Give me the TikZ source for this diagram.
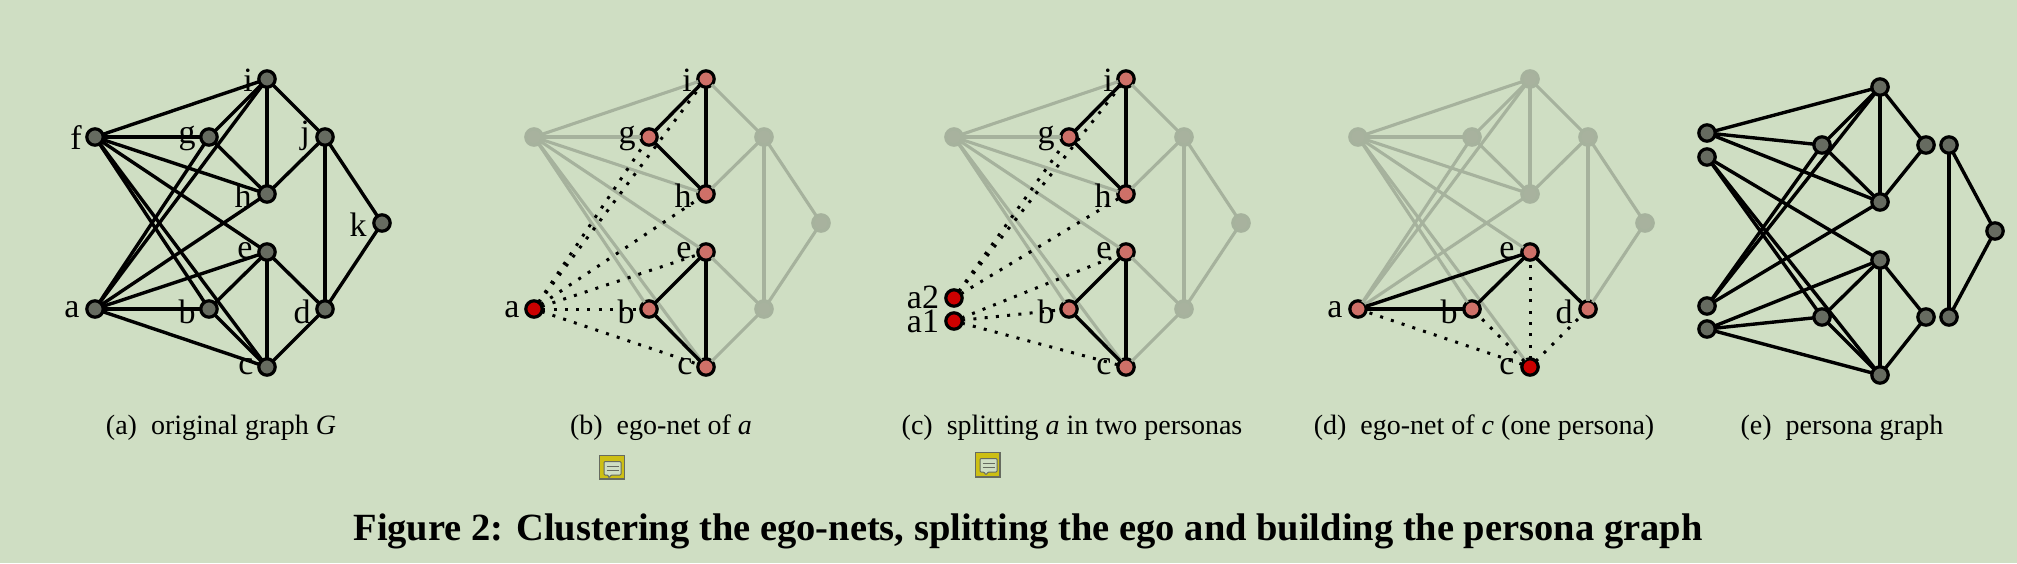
\documentclass[tikz,border=0pt]{standalone}
\usepackage{xcolor}
\usepackage{fontspec}
\setmainfont{Liberation Serif}
\usetikzlibrary{positioning}
\definecolor{bgcol}{HTML}{CFDEC3}
\definecolor{graycol}{HTML}{666B60}
\definecolor{pinkcol}{HTML}{CE7068}
\definecolor{redcol}{HTML}{CC0000}
\definecolor{fadefill}{HTML}{A8B29E}
\definecolor{fadeline}{HTML}{A6B29D}
\definecolor{notecol}{HTML}{CDBF14}
\tikzset{
  graynode/.style={circle,draw=black,line width=3.2pt,fill=graycol,inner sep=0pt,outer sep=0pt,minimum size=16.4pt},
  pinknode/.style={graynode,fill=pinkcol},
  rednode/.style={graynode,fill=redcol},
  fadenode/.style={graynode,draw=fadeline,fill=fadefill},
  plainedge/.style={draw=black,line width=3.4pt},
  fadeedge/.style={draw=fadeline,line width=3.1pt},
  dotedge/.style={draw=black,line width=3pt,dash pattern=on 3pt off 8.3pt},
  lab/.style={font=\fontsize{34}{34}\selectfont,inner sep=0pt,anchor=base},
  subcap/.style={font=\fontsize{28}{28}\selectfont,anchor=base,inner sep=0pt},
  notebox/.style={draw=graycol,line width=1.3pt,fill=notecol},
  bubble/.style={draw=graycol,line width=1pt,fill=bgcol,rounded corners=1pt}
}
\begin{document}
\begin{tikzpicture}[x=1pt,y=-1pt]
  \useasboundingbox (0,0) rectangle (2017,563);
  \fill[bgcol] (0,0) rectangle (2017,563);

  % (a) original graph
  \begin{scope}[every node/.style={graynode}]
    \node (aa) at (95,309) {};
    \node (ab) at (209,309) {};
    \node (ac) at (267,367) {};
    \node (ad) at (325,309) {};
    \node (ae) at (267,252) {};
    \node (af) at (95,137) {};
    \node (ag) at (209,137) {};
    \node (ah) at (267,194) {};
    \node (ai) at (267,79) {};
    \node (aj) at (325,137) {};
    \node (ak) at (382,223) {};
  \end{scope}
  \begin{scope}[every edge/.style={plainedge}]
    \path (af) edge (ai) edge (ag) edge (ah) edge (ae) edge (ab) edge (ac);
    \path (aa) edge (ai) edge (ag) edge (ah) edge (ae) edge (ab) edge (ac);
    \path (ag) edge (ai) edge (ah);
    \path (ai) edge (ah) edge (aj);
    \path (ah) edge (aj);
    \path (ae) edge (ab) edge (ac) edge (ad);
    \path (ac) edge (ab) edge (ad);
    \path (aj) edge (ad) edge (ak);
    \path (ad) edge (ak);
  \end{scope}
  \begin{scope}[every node/.style={lab}]
    \node (la1) at (72,317) {a};
    \node (lb1) at (187,323) {b};
    \node (lc1) at (246,374) {c};
    \node (ld1) at (302,323) {d};
    \node (le1) at (245,258) {e};
    \node (lf1) at (76,149) {f};
    \node (lg1) at (187,143) {g};
    \node (lh1) at (243,207) {h};
    \node (li1) at (248,91) {i};
    \node (lj1) at (305,143) {j};
    \node (lk1) at (358,236) {k};
  \end{scope}
  \node[subcap] (cap1) at (221,434) {(a)\hspace{0.5em}original graph \textit{G}};

  % (b) ego-net of a
  \begin{scope}[every node/.style={fadenode}]
    \node (bd) at (764,309) {};
    \node (bf) at (534,137) {};
    \node (bj) at (764,137) {};
    \node (bk) at (821,223) {};
  \end{scope}
  \begin{scope}[every node/.style={pinknode}]
    \node (bb) at (649,309) {};
    \node (bc) at (706,367) {};
    \node (be) at (706,252) {};
    \node (bg) at (649,137) {};
    \node (bh) at (706,194) {};
    \node (bi) at (706,79) {};
  \end{scope}
  \node[rednode] (ba) at (534,309) {};
  \begin{scope}[every edge/.style={fadeedge}]
    \path (bf) edge (bi) edge (bg) edge (bh) edge (be) edge (bb) edge (bc);
    \path (bi) edge (bj);
    \path (bh) edge (bj);
    \path (be) edge (bd);
    \path (bc) edge (bd);
    \path (bj) edge (bd) edge (bk);
    \path (bd) edge (bk);
  \end{scope}
  \begin{scope}[every edge/.style={dotedge}]
    \path (ba) edge (bi) edge (bg) edge (bh) edge (be) edge (bb) edge (bc);
  \end{scope}
  \begin{scope}[every edge/.style={plainedge}]
    \path (bg) edge (bi) edge (bh);
    \path (bi) edge (bh);
    \path (be) edge (bb) edge (bc);
    \path (bc) edge (bb);
  \end{scope}
  \begin{scope}[every node/.style={lab}]
    \node (la2) at (512,317) {a};
    \node (lb2) at (626,323) {b};
    \node (lc2) at (685,374) {c};
    \node (le2) at (684,258) {e};
    \node (lg2) at (627,143) {g};
    \node (lh2) at (683,207) {h};
    \node (li2) at (687,91) {i};
  \end{scope}
  \node[subcap] (cap2) at (661,434) {(b)\hspace{0.5em}ego-net of \textit{a}};

  % (c) splitting a in two personas
  \begin{scope}[every node/.style={fadenode}]
    \node (cd) at (1184,309) {};
    \node (cf) at (954,137) {};
    \node (cj) at (1184,137) {};
    \node (ck) at (1241,223) {};
  \end{scope}
  \begin{scope}[every node/.style={pinknode}]
    \node (cb) at (1069,309) {};
    \node (cc) at (1126,367) {};
    \node (ce) at (1126,252) {};
    \node (cg) at (1069,137) {};
    \node (ch) at (1126,194) {};
    \node (ci) at (1126,79) {};
  \end{scope}
  \node[rednode] (cal) at (954,321) {};
  \node[rednode] (cau) at (954,298) {};
  \begin{scope}[every edge/.style={fadeedge}]
    \path (cf) edge (ci) edge (cg) edge (ch) edge (ce) edge (cb) edge (cc);
    \path (ci) edge (cj);
    \path (ch) edge (cj);
    \path (ce) edge (cd);
    \path (cc) edge (cd);
    \path (cj) edge (cd) edge (ck);
    \path (cd) edge (ck);
  \end{scope}
  \begin{scope}[every edge/.style={dotedge}]
    \path (cau) edge (ci) edge (cg) edge (ch);
    \path (cal) edge (ce) edge (cb) edge (cc);
  \end{scope}
  \begin{scope}[every edge/.style={plainedge}]
    \path (cg) edge (ci) edge (ch);
    \path (ci) edge (ch);
    \path (ce) edge (cb) edge (cc);
    \path (cc) edge (cb);
  \end{scope}
  \begin{scope}[every node/.style={lab}]
    \node (la3u) at (923,308) {a2};
    \node (la3l) at (923,332) {a1};
    \node (lb3) at (1046,323) {b};
    \node (lc3) at (1104,374) {c};
    \node (le3) at (1104,258) {e};
    \node (lg3) at (1046,143) {g};
    \node (lh3) at (1103,207) {h};
    \node (li3) at (1108,91) {i};
  \end{scope}
  \node[subcap] (cap3) at (1072,434) {(c)\hspace{0.5em}splitting \textit{a} in two personas};

  % (d) ego-net of c
  \begin{scope}[every node/.style={fadenode}]
    \node (df) at (1358,137) {};
    \node (dg) at (1472,137) {};
    \node (dh) at (1530,194) {};
    \node (di) at (1530,79) {};
    \node (dj) at (1588,137) {};
    \node (dk) at (1645,223) {};
  \end{scope}
  \begin{scope}[every node/.style={pinknode}]
    \node (da) at (1358,309) {};
    \node (db) at (1472,309) {};
    \node (dd) at (1588,309) {};
    \node (de) at (1530,252) {};
  \end{scope}
  \node[rednode] (dc) at (1530,367) {};
  \begin{scope}[every edge/.style={fadeedge}]
    \path (df) edge (di) edge (dg) edge (dh) edge (de) edge (db) edge (dc);
    \path (da) edge (di) edge (dg) edge (dh);
    \path (dg) edge (di) edge (dh);
    \path (di) edge (dh) edge (dj);
    \path (dh) edge (dj);
    \path (dj) edge (dd) edge (dk);
    \path (dd) edge (dk);
  \end{scope}
  \begin{scope}[every edge/.style={dotedge}]
    \path (dc) edge (da) edge (db) edge (de) edge (dd);
  \end{scope}
  \begin{scope}[every edge/.style={plainedge}]
    \path (da) edge (de) edge (db);
    \path (de) edge (db) edge (dd);
  \end{scope}
  \begin{scope}[every node/.style={lab}]
    \node (la4) at (1335,317) {a};
    \node (lb4) at (1449,323) {b};
    \node (lc4) at (1507,374) {c};
    \node (ld4) at (1564,323) {d};
    \node (le4) at (1507,258) {e};
  \end{scope}
  \node[subcap] (cap4) at (1484,434) {(d)\hspace{0.5em}ego-net of \textit{c} (one persona)};

  % (e) persona graph
  \begin{scope}[every node/.style={graynode}]
    \node (efu) at (1707,133) {};
    \node (efl) at (1707,157) {};
    \node (eau) at (1707,306) {};
    \node (eal) at (1707,329) {};
    \node (eg) at (1822,145) {};
    \node (eb) at (1822,317) {};
    \node (ei) at (1880,87) {};
    \node (eh) at (1880,202) {};
    \node (ee) at (1880,260) {};
    \node (ec) at (1880,375) {};
    \node (eju) at (1926,145) {};
    \node (edu) at (1926,317) {};
    \node (ejv) at (1949,145) {};
    \node (edv) at (1949,317) {};
    \node (ek) at (1995,231) {};
  \end{scope}
  \begin{scope}[every edge/.style={plainedge}]
    \path (efu) edge (ei) edge (eg) edge (eh);
    \path (efl) edge (ee) edge (eb) edge (ec);
    \path (eau) edge (ei) edge (eg) edge (eh);
    \path (eal) edge (ee) edge (eb) edge (ec);
    \path (eg) edge (ei) edge (eh);
    \path (ei) edge (eh) edge (eju);
    \path (eh) edge (eju);
    \path (ee) edge (eb) edge (ec) edge (edu);
    \path (ec) edge (eb) edge (edu);
    \path (ejv) edge (edv) edge (ek);
    \path (edv) edge (ek);
  \end{scope}
  \node[subcap] (cap5) at (1842,434) {(e)\hspace{0.5em}persona graph};

  % note marks
  \draw[notebox] (599.5,455.5) rectangle (624.5,479);
  \draw[bubble] (604,461.5) -- (621,461.5) -- (621,475) -- (611,475) -- (609,478) -- (608,475) -- (604,475) -- cycle;
  \draw[graycol,line width=1pt] (606.5,466) -- (618.5,466) (606.5,470.5) -- (618.5,470.5);
  \draw[notebox] (975.5,452.5) rectangle (1000,477);
  \draw[bubble] (980,458.5) -- (997,458.5) -- (997,472) -- (988,472) -- (986,475) -- (984,472) -- (980,472) -- cycle;
  \draw[graycol,line width=1pt] (982.5,463) -- (994.5,463) (982.5,467.5) -- (994.5,467.5);

  \node[font=\bfseries\fontsize{38.5}{38.5}\selectfont,anchor=base,inner sep=0pt] (figcap) at (1028,540) {Figure 2: Clustering the ego-nets, splitting the ego and building the persona graph};
\end{tikzpicture}
\end{document}
